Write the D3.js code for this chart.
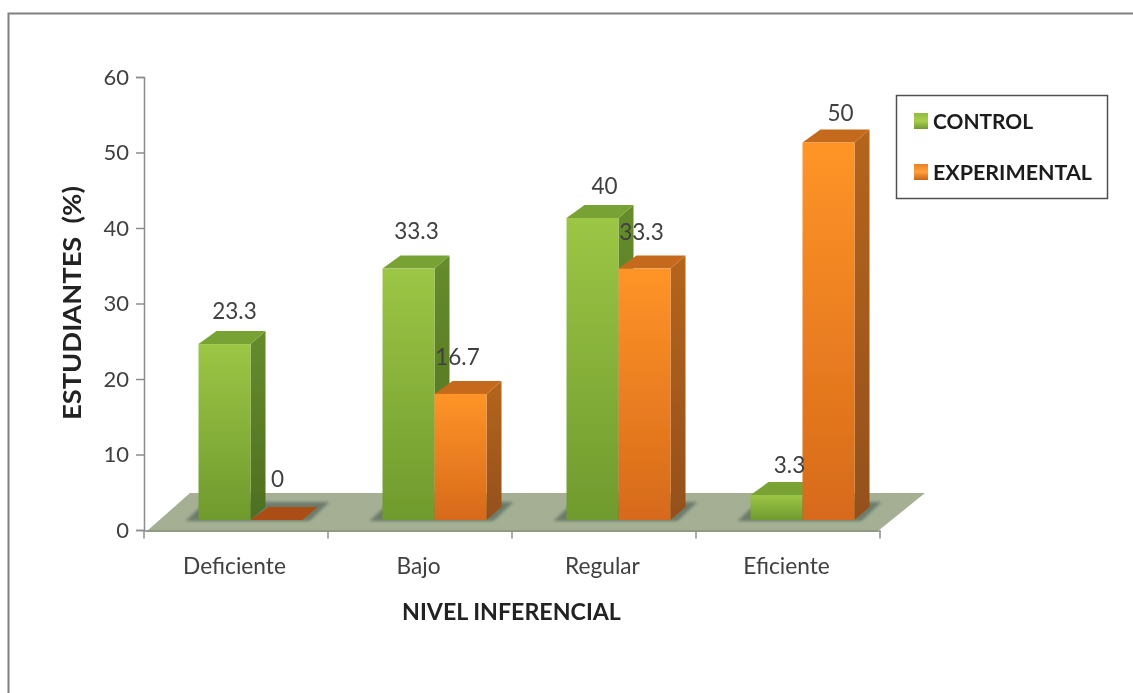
<!DOCTYPE html>
<html><head><meta charset="utf-8">
<script src="https://cdnjs.cloudflare.com/ajax/libs/d3/7.8.5/d3.min.js"></script>
<style>
html,body{margin:0;padding:0;background:#fff;overflow:hidden}
svg{display:block}
text{font-family:Lato,"Open Sans",sans-serif}
</style></head><body>
<script>
const categories = ["Deficiente","Bajo","Regular","Eficiente"];
const seriesNames = ["CONTROL","EXPERIMENTAL"];
const control = [23.3,33.3,40,3.3];
const experimental = [0,16.7,33.3,50];
const yTicks = [0,10,20,30,40,50,60];
const xTitle = "NIVEL INFERENCIAL";
const yTitle = "ESTUDIANTES  (%)";

const W=1133,H=693;
const svg=d3.select("body").append("svg").attr("width",W).attr("height",H);
const defs=svg.append("defs");
function grad(id,stops){
  const g=defs.append("linearGradient").attr("id",id).attr("x1",0).attr("y1",0).attr("x2",0).attr("y2",1);
  stops.forEach(([o,c])=>g.append("stop").attr("offset",o).attr("stop-color",c));
}
grad("gFront",[[0,"#9cc645"],[1,"#6f9a2d"]]);
grad("oFront",[[0,"#ff9428"],[1,"#d66a1a"]]);
grad("gSide",[[0,"#668c2c"],[1,"#4e6f20"]]);
grad("oSide",[[0,"#b5651f"],[1,"#94501a"]]);
grad("gLeg",[[0,"#8fbc3f"],[0.5,"#a8d04e"],[1,"#6f9a2d"]]);
grad("oLeg",[[0,"#e8822a"],[0.5,"#ffa23a"],[1,"#c8641a"]]);
defs.append("filter").attr("id","soft").attr("x","-5%").attr("y","-5%").attr("width","110%").attr("height","110%")
  .append("feGaussianBlur").attr("stdDeviation",0.55);
defs.append("filter").attr("id","shadow").attr("x","-10%").attr("y","-30%").attr("width","120%").attr("height","160%")
  .append("feGaussianBlur").attr("stdDeviation",1.6);

const root=svg.append("g").attr("filter","url(#soft)");

// frame
root.append("path").attr("d",`M8.5,${H} V13.5 H${W}`).attr("fill","none").attr("stroke","#808080").attr("stroke-width",2);

// scales
const yAxisScale=d3.scaleLinear().domain([0,60]).range([530,77]);
const yBar=d3.scaleLinear().domain([0,60]).range([520,67]);
const x0=d3.scaleBand().domain(categories).range([144,880]);
const x1=d3.scaleBand().domain(seriesNames).range([54.5,158.5]);
const depthX=15,depthY=-13,depthLeft=18;

// axes
const axisColor="#8c8c8c",textColor="#404040";
const gy=root.append("g").attr("transform","translate(144,0)")
  .call(d3.axisLeft(yAxisScale).tickValues(yTicks).tickSize(8).tickPadding(6));
const gx=root.append("g").attr("transform","translate(0,530.5)")
  .call(d3.axisBottom(x0).tickValues([]).tickSize(0));
gx.selectAll("line.edge").data(d3.range(categories.length+1)).join("line").attr("class","edge")
  .attr("x1",i=>144+i*x0.bandwidth()).attr("x2",i=>144+i*x0.bandwidth()).attr("y1",0).attr("y2",8)
  .attr("stroke",axisColor).attr("stroke-width",1.5);
[gy,gx].forEach(g=>{g.selectAll(".domain,.tick line").attr("stroke",axisColor).attr("stroke-width",1.5);});
gy.selectAll("text").attr("font-size",22).attr("fill",textColor).attr("dx",-1);

root.append("g").selectAll("text").data(categories).join("text")
  .attr("x",d=>x0(d)+x0.bandwidth()/2-1.5).attr("y",574).attr("text-anchor","middle")
  .attr("font-size",22.7).attr("fill",textColor).text(d=>d);

// floor
root.append("path").attr("d","M147,531 L878,531 L925,493 L190,493 Z").attr("fill","#a4af94");
root.append("path").attr("d","M147,531 L878,531").attr("stroke","#8f9a82").attr("stroke-width",2);

// bars
const series=[{name:seriesNames[0],vals:control,front:"gFront",side:"gSide",top:"#79a236"},
              {name:seriesNames[1],vals:experimental,front:"oFront",side:"oSide",top:"#c56a1c"}];
const flat=[];
categories.forEach((c,i)=>series.forEach(s=>flat.push({c,i,s,v:s.vals[i]})));
const bw=x1.bandwidth();

// contact shadow under each group
root.append("g").selectAll("path").data(categories).join("path")
  .attr("d",c=>{const l=x0(c)+x1(seriesNames[0])-13,r=x0(c)+x1(seriesNames[1])+bw+27;
    return `M${l},521 L${r-20},521 L${r},502 L${l+20},502 Z`;})
  .attr("fill","#6d7b6a").attr("filter","url(#shadow)");

const bars=root.append("g").selectAll("g").data(flat).join("g");
bars.each(function(d){
  const g=d3.select(this);
  const l=x0(d.c)+x1(d.s.name), r=l+bw, t=yBar(d.v), b=yBar(0);
  if(d.v>0){
    g.append("path").attr("d",`M${r},${t} L${r+depthX},${t+depthY} L${r+depthX},${b+depthY} L${r},${b} Z`).attr("fill",`url(#${d.s.side})`);
    g.append("path").attr("d",`M${l},${t} L${l+depthLeft},${t+depthY} L${r+depthX},${t+depthY} L${r},${t} Z`).attr("fill",d.s.top);
    g.append("rect").attr("x",l).attr("y",t).attr("width",bw).attr("height",b-t).attr("fill",`url(#${d.s.front})`);
  } else {
    g.append("path").attr("d",`M${l},${b} L${l+depthLeft},${b+depthY} L${r+depthX},${b+depthY} L${r},${b} Z`).attr("fill","#ad4d12");
  }
});

// data labels: manual nudges as in the source chart
const labelNudge=[[10,-33],[1,-41],[8,-38],[-3,-37],[12,-32],[-3,-37],[13,-30],[12,-30]];
root.append("g").selectAll("text").data(flat).join("text")
  .attr("x",(d,k)=>x0(d.c)+x1(d.s.name)+bw/2+labelNudge[k][0])
  .attr("y",(d,k)=>yBar(d.v)+labelNudge[k][1]+8)
  .attr("text-anchor","middle").attr("font-size",22.5).attr("fill",textColor).text(d=>d.v);

// titles
root.append("text").attr("x",511.5).attr("y",620).attr("text-anchor","middle")
  .attr("font-size",23.2).attr("font-weight",700).attr("fill","#222").text(xTitle);
root.append("text").attr("transform","translate(81,303) rotate(-90)").attr("text-anchor","middle")
  .attr("font-size",25).attr("font-weight",700).attr("fill","#222").style("white-space","pre")
  .attr("textLength",234).attr("lengthAdjust","spacingAndGlyphs").text(yTitle);

// legend
root.append("rect").attr("x",896.5).attr("y",95.5).attr("width",211).attr("height",103)
  .attr("fill","#fff").attr("stroke","#505050").attr("stroke-width",1.5);
const lg=root.append("g").selectAll("g").data(series).join("g")
  .attr("transform",(d,i)=>`translate(914,${i?164:113})`);
lg.append("rect").attr("width",14).attr("height",16).attr("fill",d=>d.name===seriesNames[0]?"url(#gLeg)":"url(#oLeg)");
lg.append("text").attr("x",19).attr("y",16).attr("font-size",21.5).attr("font-weight",700).attr("fill","#1a1a1a")
  .attr("textLength",(d,i)=>i?159:100).attr("lengthAdjust","spacingAndGlyphs").text(d=>d.name);
</script>
</body></html>
